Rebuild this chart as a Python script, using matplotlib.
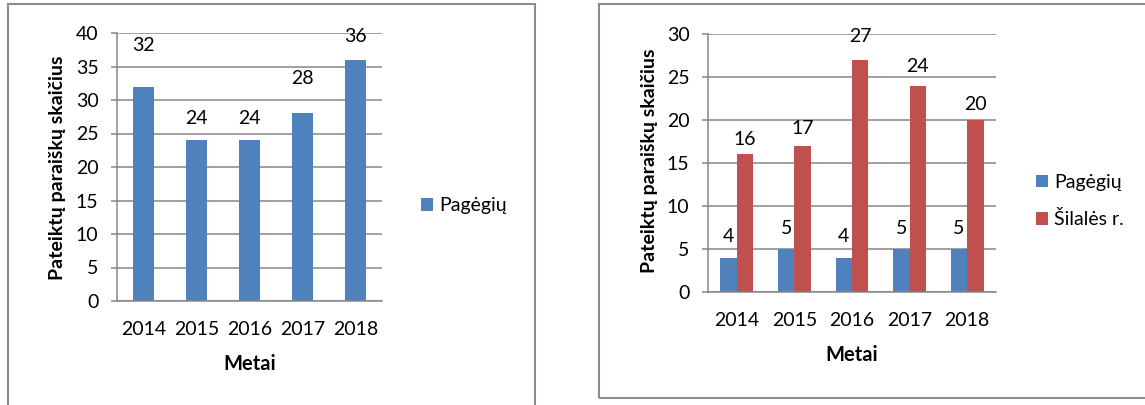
import matplotlib.pyplot as plt
from matplotlib.patches import Rectangle
import numpy as np

plt.rcParams['font.family'] = ['Lato', 'DejaVu Sans']
plt.rcParams['font.size'] = 14

years = ['2014', '2015', '2016', '2017', '2018']
pagegiu_left = [32, 24, 24, 28, 36]
pagegiu_right = [4, 5, 4, 5, 5]
silales = [16, 17, 27, 24, 20]

# label offsets above the bar tops (pixels), as placed by hand in the original
off_left = [41, 22, 22, 35, 23]
off_blue = [21, 21, 21, 21, 21]
off_red = [15, 17, 23, 19, 16]

BLUE = '#4F81BD'
RED = '#C0504D'
GREY = '#868686'
W, H = 1145, 405


def box(l, t, r, b):
    return [l / W, 1 - b / H, (r - l) / W, (b - t) / H]


def style_axes(ax, top, step):
    ax.set_xlim(-0.5, 4.5)
    ax.set_ylim(0, top)
    ax.set_yticks(np.arange(0, top + 1, step))
    ax.set_xticks(np.arange(len(years)))
    ax.set_xticklabels(years)
    ax.yaxis.grid(True, color=GREY, linewidth=1.1)
    ax.set_axisbelow(True)
    for s in ['top', 'right']:
        ax.spines[s].set_visible(False)
    for s in ['left', 'bottom']:
        ax.spines[s].set_color(GREY)
        ax.spines[s].set_linewidth(1.1)
    ax.tick_params(axis='y', length=4.3, width=1.1, color=GREY, pad=9)
    ax.tick_params(axis='x', length=0, pad=14.5)


def label_bars(ax, bars, vals, offs):
    for b, v, o in zip(bars, vals, offs):
        ax.annotate(str(v), (b.get_x() + b.get_width() / 2, b.get_height()),
                    xytext=(0, o), textcoords='offset pixels',
                    ha='center', va='center')


fig = plt.figure(figsize=(11.45, 4.05), dpi=100)

# panel frames
fig.patches.append(Rectangle((8 / W, 1 - 410 / H), 527 / W, 406 / H,
                             transform=fig.transFigure, fill=False,
                             edgecolor='#8c8c8c', linewidth=1.5))
fig.patches.append(Rectangle((599 / W, 1 - 398 / H), 560 / W, 394 / H,
                             transform=fig.transFigure, fill=False,
                             edgecolor='#8c8c8c', linewidth=1.5))

x = np.arange(len(years))

# left chart
ax1 = fig.add_axes(box(117, 33, 382, 301))
style_axes(ax1, 40, 5)
b1 = ax1.bar(x, pagegiu_left, width=0.4, color=BLUE, label='Pagėgių')
label_bars(ax1, b1, pagegiu_left, off_left)
fig.text(57 / W, 1 - 168 / H, 'Pateiktų paraiškų skaičius', rotation=90,
         ha='center', va='center', fontweight='bold')
fig.text(250 / W, 1 - 364 / H, 'Metai', ha='center', va='center',
         fontweight='bold', fontsize=14.5)
ax1.legend(loc='center left', bbox_to_anchor=(421 / W, 1 - 206 / H),
           bbox_transform=fig.transFigure, frameon=False, borderpad=0,
           borderaxespad=0, handlelength=0.6, handleheight=0.6,
           handletextpad=0.35)

# right chart
ax2 = fig.add_axes(box(708, 34, 996, 292))
style_axes(ax2, 30, 5)
w = 0.286
b2 = ax2.bar(x - w / 2, pagegiu_right, width=w, color=BLUE, label='Pagėgių')
b3 = ax2.bar(x + w / 2, silales, width=w, color=RED, label='Šilalės r.')
label_bars(ax2, b2, pagegiu_right, off_blue)
label_bars(ax2, b3, silales, off_red)
fig.text(650 / W, 1 - 161 / H, 'Pateiktų paraiškų skaičius', rotation=90,
         ha='center', va='center', fontweight='bold')
fig.text(852 / W, 1 - 355 / H, 'Metai', ha='center', va='center',
         fontweight='bold', fontsize=14.5)
ax2.legend(loc='center left', bbox_to_anchor=(1036 / W, 1 - 201 / H),
           bbox_transform=fig.transFigure, frameon=False, borderpad=0,
           borderaxespad=0, handlelength=0.6, handleheight=0.6,
           handletextpad=0.35, labelspacing=1.0)

fig.savefig('out.png', dpi=100)
